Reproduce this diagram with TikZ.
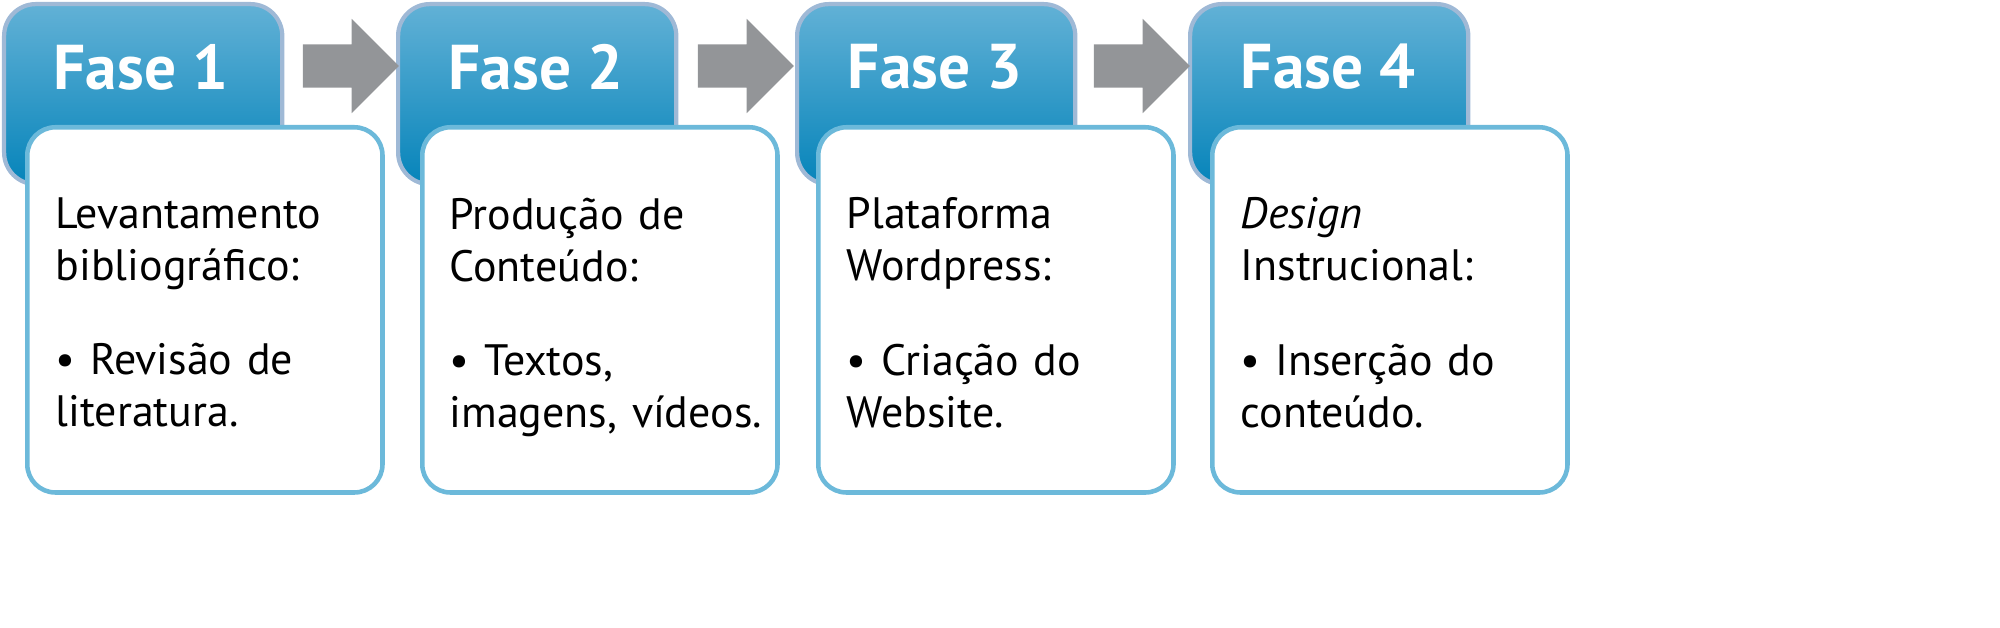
\documentclass[tikz,border=0pt]{standalone}
\usepackage{fontspec}
\setmainfont{PT Sans}
\usetikzlibrary{positioning, shapes.arrows}
\definecolor{faseTop}{HTML}{62B1D6}
\definecolor{faseBot}{HTML}{0684BA}
\definecolor{faseRim}{HTML}{9FB9D6}
\definecolor{cardRim}{HTML}{6CB9DA}
\definecolor{arrowGray}{HTML}{939598}
\tikzset{
  fasebox/.style={draw=faseRim, line width=1.2pt, rounded corners=9pt, top color=faseTop, bottom color=faseBot,
    minimum width=2.78cm, minimum height=1.8cm, anchor=north west, inner sep=0pt},
  fasetitle/.style={text=white, font=\fontsize{18}{22}\selectfont\bfseries},
  cardbox/.style={draw=cardRim, fill=white, line width=1.3pt, rounded corners=8pt,
    minimum width=3.55cm, minimum height=3.65cm, anchor=north west},
  cardtext/.style={anchor=north west, align=left, text width=3.4cm, inner sep=0pt,
    font=\fontsize{12.5}{14.8}\selectfont},
  stepArrow/.style={single arrow, fill=arrowGray, draw=none, inner xsep=0pt, inner ysep=0.21cm,
    single arrow head extend=0.255cm, minimum height=0.96cm, single arrow head indent=0pt}
}
\begin{document}
\begin{tikzpicture}[x=0.01cm, y=-0.01cm]
  \useasboundingbox (0,0) rectangle (2000,628);

  % fase 1
  \node[fasebox] (f1) at (2,2) {};
  \node[fasetitle] at (141,67) {Fase 1};
  \node[cardbox] (c1) at (25,125) {};
  \node[cardtext] (t1) at (55,197) {Levantamento\\bibliográfico:\\[12pt]• Revisão de\\literatura.};

  % fase 2
  \node[fasebox] (f2) at (396,2) {};
  \node[fasetitle] at (536,67) {Fase 2};
  \node[cardbox] (c2) at (420,125) {};
  \node[cardtext] (t2) at (449,197) {Produção de\\Conteúdo:\\[12pt]• Textos,\\imagens, vídeos.};

  % fase 3
  \node[fasebox] (f3) at (795,2) {};
  \node[fasetitle] at (935,67) {Fase 3};
  \node[cardbox] (c3) at (816,125) {};
  \node[cardtext] (t3) at (846,197) {Plataforma\\Wordpress:\\[12pt]• Criação do\\Website.};

  % fase 4
  \node[fasebox] (f4) at (1188,2) {};
  \node[fasetitle] at (1328,67) {Fase 4};
  \node[cardbox] (c4) at (1210,125) {};
  \node[cardtext] (t4) at (1240,197) {\textit{Design}\\Instrucional:\\[12pt]• Inserção do\\conteúdo.};

  % arrows
  \node[stepArrow] (a1) at (340,66) {};
  \node[stepArrow] (a2) at (735,66) {};
  \node[stepArrow] (a3) at (1131,66) {};
\end{tikzpicture}
\end{document}
